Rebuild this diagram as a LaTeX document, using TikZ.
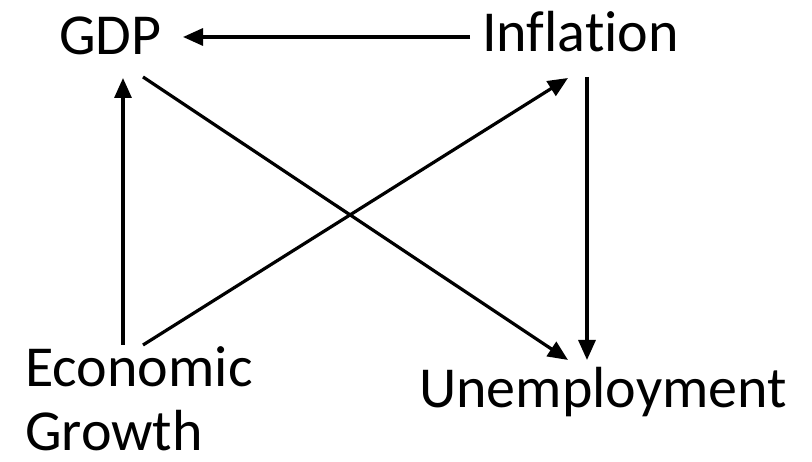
\documentclass[tikz,border=0pt]{standalone}
\usepackage{fontspec}
\setmainfont[Ligatures=NoCommon]{Carlito}
\usetikzlibrary{arrows.meta,calc}
\begin{document}
\begin{tikzpicture}[x=1pt,y=1pt,
  lbl/.style={inner sep=0pt,anchor=base west,font=\fontsize{58}{64}\selectfont},
  arr/.style={line width=3.2pt,-{Triangle[length=20pt,width=17pt]}}]
\useasboundingbox (0,0) rectangle (812,462);
\node[lbl] (gdp) at (59,407) {GDP};
\node[lbl] (infl) at (482,410) {Inflation};
\node[lbl] (econ) at (25,75) {Economic};
\node[lbl] (growth) at ($(econ.base west)+(0,-64)$) {Growth};
\node[lbl] (unemp) at (419,54) {Unemployment};
\draw[arr] ($(infl.base west)+(-12,15)$) -- ($(gdp.base west)+(124,18)$);
\draw[arr] ($(econ.base west)+(98,42)$) -- ($(gdp.base west)+(64,-23)$);
\draw[arr] ($(econ.base west)+(118,42)$) -- ($(infl.base west)+(86,-26)$);
\draw[arr] ($(gdp.base west)+(84,-22)$) -- ($(unemp.base west)+(149,48)$);
\draw[arr] ($(infl.base west)+(105,-25)$) -- ($(unemp.base west)+(168,48)$);
\end{tikzpicture}
\end{document}
